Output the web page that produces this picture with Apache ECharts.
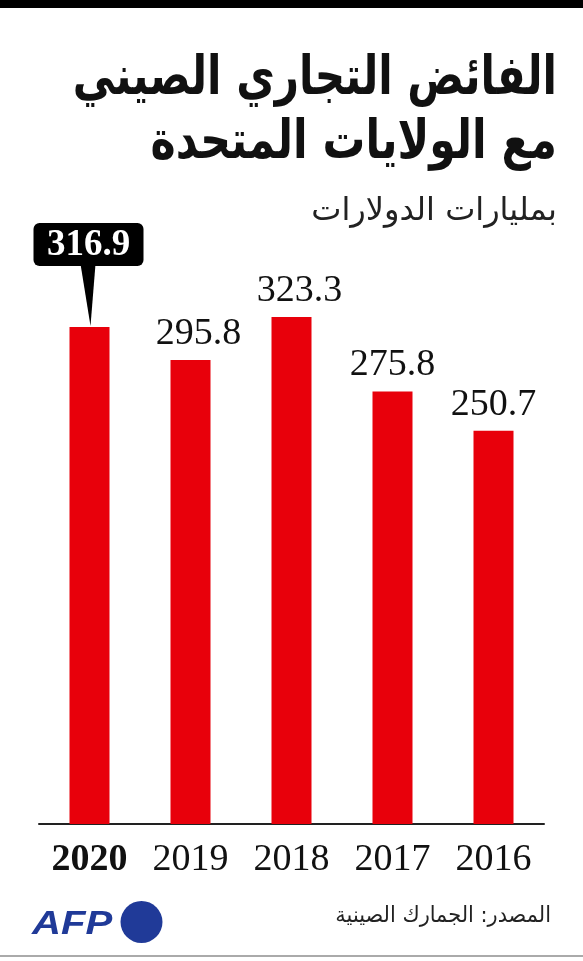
<!DOCTYPE html>
<html>
<head>
<meta charset="utf-8">
<script src="https://cdn.jsdelivr.net/npm/echarts@6/dist/echarts.min.js"></script>
<style>
html,body{margin:0;padding:0;background:#fff;}
#c{width:583px;height:961px;}
</style>
</head>
<body>
<div id="c"></div>
<script>
const categories = ['2020', '2019', '2018', '2017', '2016'];
const values = [316.9, 295.8, 323.3, 275.8, 250.7];
const highlightIndex = 0;
const titleLines = ['الفائض التجاري الصيني', 'مع الولايات المتحدة'];
const subtitle = 'بمليارات الدولارات';
const source = 'المصدر: الجمارك الصينية';

// label nudges (style only), keyed by category index
const labelNudge = {1: [8, 0], 2: [8, 0]};

const chart = echarts.init(document.getElementById('c'), null, {renderer: 'canvas'});
const serif = "'Liberation Serif', 'DejaVu Serif', serif";
const arabic = "'DejaVu Sans', 'Noto Sans', sans-serif";

const barData = values.map((v, i) => {
  if (i === highlightIndex) return {value: v, label: {show: false}};
  if (labelNudge[i]) return {value: v, label: {offset: labelNudge[i]}};
  return v;
});

chart.setOption({
  backgroundColor: '#fff',
  animation: false,
  grid: {left: 39, right: 39, top: 275, bottom: 137},
  xAxis: {
    type: 'category',
    data: categories,
    axisLine: {lineStyle: {color: '#222', width: 2}},
    axisTick: {show: false},
    axisLabel: {
      interval: 0,
      margin: 17,
      fontFamily: serif,
      fontSize: 38,
      color: '#111',
      formatter: (v, i) => i === highlightIndex ? '{b|' + v + '}' : v,
      rich: {b: {fontFamily: serif, fontSize: 38, fontWeight: 'bold', color: '#111'}}
    }
  },
  yAxis: {type: 'value', min: 0, max: 350, show: false, splitLine: {show: false}},
  series: [
    {
      type: 'bar',
      data: barData,
      barWidth: 40,
      itemStyle: {color: '#e8000b'},
      label: {show: true, position: 'top', distance: 7, fontFamily: serif, fontSize: 38, color: '#111',
        formatter: p => p.value.toFixed(1)}
    },
    {
      type: 'custom',
      data: [[highlightIndex, values[highlightIndex]]],
      z: 5,
      renderItem: (params, api) => {
        const p = api.coord([api.value(0), api.value(1)]);
        const boxBottom = p[1] - 61;
        return {
          type: 'group',
          children: [
            {type: 'polygon', shape: {points: [[p[0] - 9, boxBottom - 2], [p[0] + 6, boxBottom - 2], [p[0] + 1, p[1] - 1]]}, style: {fill: '#000'}},
            {type: 'rect', shape: {x: p[0] - 56, y: boxBottom - 43, width: 110, height: 43, r: 6}, style: {fill: '#000'}},
            {type: 'text', style: {x: p[0] - 1, y: boxBottom - 20, text: api.value(1).toFixed(1), fill: '#fff',
              font: "bold 37px 'Liberation Serif', serif", textAlign: 'center', textVerticalAlign: 'middle'}}
          ]
        };
      }
    }
  ],
  graphic: [
    {type: 'rect', left: 0, top: 0, shape: {width: 583, height: 8}, style: {fill: '#000'}},
    {type: 'rect', left: 0, top: 955, shape: {width: 583, height: 2}, style: {fill: '#aaa'}},
    {type: 'text', x: 557, y: 80, scaleX: 0.78, style: {x: 0, y: 0, text: titleLines[0], font: "bold 54px " + arabic, fill: '#111', textAlign: 'right', textVerticalAlign: 'middle'}},
    {type: 'text', x: 557, y: 144, scaleX: 0.79, style: {x: 0, y: 0, text: titleLines[1], font: "bold 54px " + arabic, fill: '#111', textAlign: 'right', textVerticalAlign: 'middle'}},
    {type: 'text', x: 557, y: 212, style: {x: 0, y: 0, text: subtitle, font: "32px " + arabic, fill: '#222', textAlign: 'right', textVerticalAlign: 'middle'}},
    {type: 'text', x: 551, y: 916, scaleX: 0.95, style: {x: 0, y: 0, text: source, font: "22px " + arabic, fill: '#222', textAlign: 'right', textVerticalAlign: 'middle'}},
    {type: 'text', x: 32, y: 925, scaleX: 1.18, style: {x: 0, y: 0, text: 'AFP', font: "italic bold 34px 'Liberation Sans', Arial, sans-serif", fill: '#203a98', textAlign: 'left', textVerticalAlign: 'middle'}},
    {type: 'circle', shape: {cx: 141.5, cy: 922, r: 21}, style: {fill: '#203a98'}}
  ]
});
</script>
</body>
</html>
